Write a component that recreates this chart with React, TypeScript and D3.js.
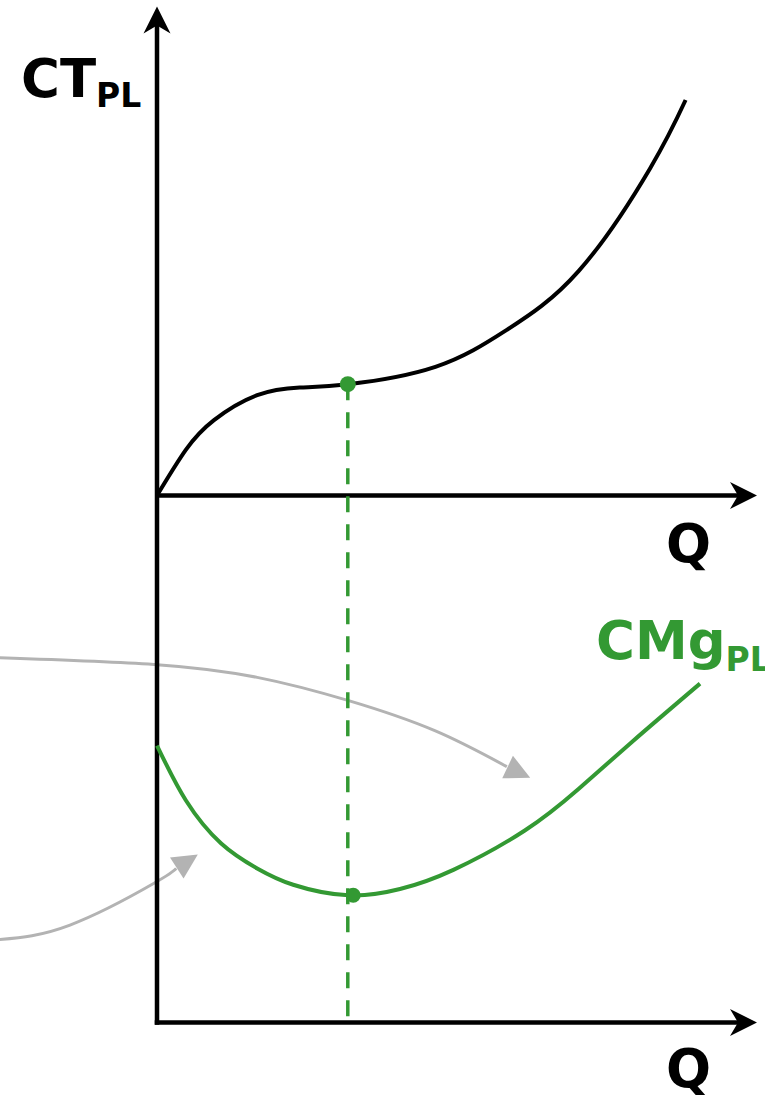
import React from "react";
import * as d3 from "d3";

// Quantity axis runs 0..10, cost axes 0..100
const ctQ = [0, 0.48, 0.95, 1.67, 2.38, 3.19, 4.64, 5.83, 7.03, 8.22, 8.81];
const ctV = [0, 9.5, 15.7, 20.9, 22.5, 23.2, 26.8, 34.5, 46.8, 68.2, 82.4];

const cmgQ = [0, 0.48, 1.07, 1.67, 2.27, 3.19, 4.05, 4.94, 6.13, 7.03, 7.92, 9.05];
const cmgV = [57.7, 46.3, 37.3, 32.1, 28.7, 26.5, 27.8, 31.8, 40.0, 48.7, 58.5, 70.6];

const qStar = 3.18;
const ctStar = 23.2;
const cmgMinQ = 3.27;
const cmgMin = 26.5;

// annotation arrows (in bottom panel units)
const arrow1Q = [-2.62, -0.05, 1.67, 3.18, 4.63, 5.83, 6.22];
const arrow1V = [76.0, 74.6, 71.9, 67.1, 60.8, 53.3, 51.0];
const arrow2Q = [-2.62, -1.45, -0.05, 0.32, 0.68];
const arrow2V = [17.3, 20.3, 29.0, 32.1, 35.0];

const labelCT = "CT";
const labelCMg = "CMg";
const labelSub = "PL";
const labelQ = "Q";

const W = 765;
const H = 1095;
const GREEN = "#339933";
const GRAY = "#b3b3b3";
const FONT = "'DejaVu Sans', Verdana, sans-serif";

const x = d3.scaleLinear().domain([0, 10]).range([157, 757]);
const yTop = d3.scaleLinear().domain([0, 100]).range([495.5, 15.5]);
const yBot = d3.scaleLinear().domain([0, 100]).range([1022.5, 542.5]);

function stealthRight(tx: number, ty: number) {
  return `M${tx},${ty} L${tx - 27},${ty - 13.5} L${tx - 19},${ty} L${tx - 27},${ty + 13.5} Z`;
}
function stealthUp(tx: number, ty: number) {
  return `M${tx},${ty} L${tx - 13.5},${ty + 27} L${tx},${ty + 19} L${tx + 13.5},${ty + 27} Z`;
}

const smooth = d3.curveNatural;

function grayArrow(qs: number[], vs: number[]) {
  const pts: [number, number][] = qs.map((q, i) => [x(q), yBot(vs[i])]);
  const tip = pts[pts.length - 1];
  const prev = pts[pts.length - 2];
  const dx = tip[0] - prev[0];
  const dy = tip[1] - prev[1];
  const len = Math.hypot(dx, dy);
  const ux = dx / len;
  const uy = dy / len;
  const L = 25;
  const hw = 12.5;
  const bx = tip[0] - ux * L;
  const by = tip[1] - uy * L;
  const linePts = pts.slice(0, pts.length - 1);
  const line = d3.line().curve(smooth)(linePts) || "";
  const head = `M${tip[0]},${tip[1]} L${bx - uy * hw},${by + ux * hw} L${bx + uy * hw},${by - ux * hw} Z`;
  return { line, head };
}

export default function App() {
  const lineGen = d3.line<[number, number]>().curve(smooth);

  const ctPath = lineGen(ctQ.map((q, i) => [x(q), yTop(ctV[i])])) || "";
  const cmgPath = lineGen(cmgQ.map((q, i) => [x(q), yBot(cmgV[i])])) || "";
  const a1 = grayArrow(arrow1Q, arrow1V);
  const a2 = grayArrow(arrow2Q, arrow2V);

  const axisX = x(0);
  const topY = yTop(0);
  const botY = yBot(0);
  const axisEnd = x(10);

  return (
    <svg
      width={W}
      height={H}
      style={{ position: "absolute", left: 0, top: 0, background: "#fff" }}
      fontFamily={FONT}
      fontWeight="bold"
    >
      {/* gray annotation arrows */}
      <path d={a1.line} fill="none" stroke={GRAY} strokeWidth={3} />
      <path d={a1.head} fill={GRAY} />
      <path d={a2.line} fill="none" stroke={GRAY} strokeWidth={3} />
      <path d={a2.head} fill={GRAY} />

      {/* axes */}
      <line x1={axisX} y1={botY + 2.25} x2={axisX} y2={22} stroke="#000" strokeWidth={4.5} />
      <path d={stealthUp(axisX, 6.5)} fill="#000" />
      <line x1={axisX} y1={topY} x2={axisEnd - 10} y2={topY} stroke="#000" strokeWidth={4.5} />
      <path d={stealthRight(axisEnd, topY)} fill="#000" />
      <line x1={axisX - 2.25} y1={botY} x2={axisEnd - 10} y2={botY} stroke="#000" strokeWidth={4.5} />
      <path d={stealthRight(axisEnd, botY)} fill="#000" />

      {/* dashed guide */}
      <line
        x1={x(qStar)}
        y1={yTop(ctStar)}
        x2={x(qStar)}
        y2={botY}
        stroke={GREEN}
        strokeWidth={3.5}
        strokeDasharray="16 12"
      />

      {/* curves */}
      <path d={ctPath} fill="none" stroke="#000" strokeWidth={4} />
      <path d={cmgPath} fill="none" stroke={GREEN} strokeWidth={4} />

      <circle cx={x(qStar)} cy={yTop(ctStar)} r={8} fill={GREEN} />
      <circle cx={x(cmgMinQ)} cy={yBot(cmgMin)} r={7.5} fill={GREEN} />

      {/* labels */}
      <text x={21} y={97} fontSize={53} fill="#000">
        {labelCT}
        <tspan fontSize={33} dy={10}>{labelSub}</tspan>
      </text>
      <text x={666} y={562} fontSize={53} fill="#000">{labelQ}</text>
      <text x={666} y={1087} fontSize={53} fill="#000">{labelQ}</text>
      <text x={596} y={659} fontSize={53} fill={GREEN}>
        {labelCMg}
        <tspan fontSize={33} dy={12}>{labelSub}</tspan>
      </text>
    </svg>
  );
}
